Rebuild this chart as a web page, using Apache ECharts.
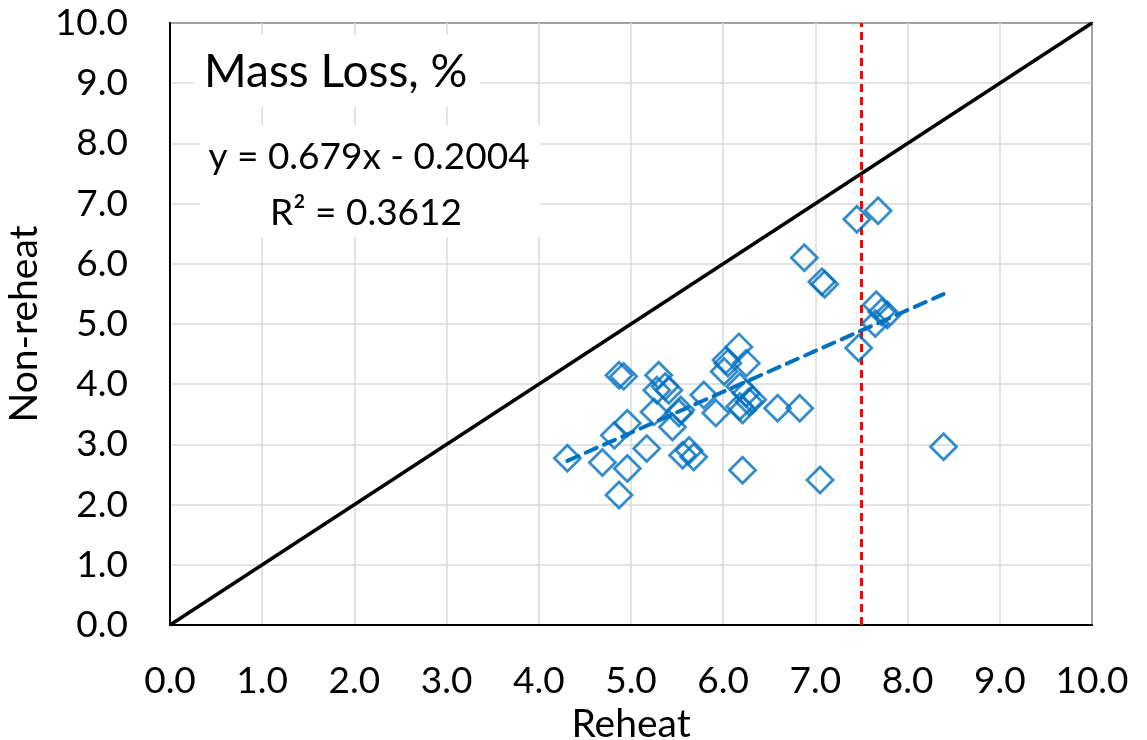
<!DOCTYPE html>
<html><head><meta charset="utf-8">
<script src="https://cdn.jsdelivr.net/npm/echarts@6/dist/echarts.min.js"></script>
<style>html,body{margin:0;padding:0;background:#fff}#c{width:1147px;height:740px}</style>
</head><body><div id="c"></div>
<script>
const reheat = [4.31,4.69,4.87,4.96,4.82,4.96,5.17,4.87,4.92,5.30,5.28,5.37,5.41,5.25,5.45,5.54,5.52,5.56,5.63,5.68,5.79,5.92,6.03,6.05,6.01,6.17,6.18,6.25,6.28,6.18,6.21,6.32,6.25,6.21,6.59,6.83,7.05,6.88,7.07,7.10,7.45,7.68,7.66,7.72,7.78,7.65,7.47,8.39];
const nonReheat = [2.77,2.70,2.16,2.60,3.15,3.35,2.93,4.15,4.13,4.15,3.90,3.96,3.90,3.54,3.29,3.57,3.52,2.82,2.90,2.79,3.82,3.52,4.40,4.35,4.21,4.62,3.96,3.85,3.71,3.63,3.57,3.74,4.35,2.57,3.60,3.60,2.41,6.10,5.70,5.66,6.74,6.88,5.32,5.20,5.15,5.01,4.60,2.96];
const slope = 0.679, intercept = -0.2004, r2 = 0.3612;
const threshold = 7.5;

const pts = reheat.map((x,i)=>[x,nonReheat[i]]);
const xmin = Math.min(...reheat), xmax = Math.max(...reheat);
const trend = [[xmin, slope*xmin+intercept],[xmax, slope*xmax+intercept]];
const FONT = 'Lato';
const chart = echarts.init(document.getElementById('c'));
const axisCommon = {
  min: 0, max: 10, interval: 1,
  axisLine: {show:true, onZero:false, lineStyle:{color:'#000', width:2}},
  axisTick: {show:false},
  splitLine: {show:true, lineStyle:{color:'#d9d9d9', width:1.5}},
  nameTextStyle: {color:'#000', fontSize:39, fontFamily:FONT},
  nameLocation: 'middle'
};
const lbl = {color:'#000', fontSize:37, fontFamily:FONT, formatter:v=>v.toFixed(1)};
chart.setOption({
  animation:false,
  backgroundColor:'#fff',
  grid:{left:170, right:55, top:23, bottom:115, show:true, borderColor:'#000', borderWidth:2, containLabel:false, outerBoundsMode:'none'},
  xAxis: Object.assign({}, axisCommon, {type:'value', name:'Reheat', nameGap:77, axisLabel:Object.assign({}, lbl, {margin:38})}),
  yAxis: Object.assign({}, axisCommon, {type:'value', name:'Non-reheat', nameGap:121, axisLabel:Object.assign({}, lbl, {margin:42})}),
  series:[
    {type:'line', data:[[0,0],[10,10]], symbol:'none', lineStyle:{color:'#000', width:3.5}, z:2, silent:true},
    {type:'line', data:[[threshold,0],[threshold,10]], symbol:'none', lineStyle:{color:'#ff0000', width:3, type:[8,5]}, z:3},
    {type:'scatter', data:pts, symbol:'diamond', symbolSize:[26,26],
      itemStyle:{color:'rgba(255,255,255,0)', borderColor:'#0070c0', borderWidth:2.8}, z:4},
    {type:'line', data:trend, symbol:'none', lineStyle:{color:'#0070c0', width:4, type:[12,8], cap:'round'}, z:5}
  ],
  graphic:[
    {type:'rect', shape:{x:193, y:35, width:287, height:72}, style:{fill:'#fff'}, z:10},
    {type:'text', x:204, y:72, style:{text:'Mass Loss, %', font:'46px '+FONT, fill:'#000', verticalAlign:'middle'}, z:11},
    {type:'rect', shape:{x:200, y:125, width:340, height:112}, style:{fill:'#fff'}, z:10},
    {type:'text', x:369, y:157, style:{text:'y = '+slope+'x - '+Math.abs(intercept), font:'37px '+FONT, fill:'#000', align:'center', verticalAlign:'middle'}, z:11},
    {type:'text', x:366, y:213, style:{text:'R² = '+r2, font:'37px '+FONT, fill:'#000', align:'center', verticalAlign:'middle'}, z:11}
  ]
});
</script></body></html>
